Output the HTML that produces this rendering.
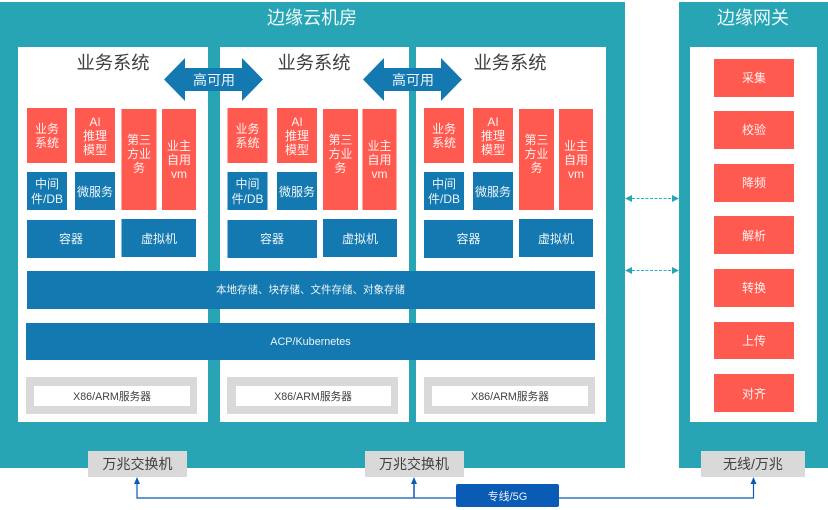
<!DOCTYPE html>
<html lang="zh">
<head>
<meta charset="utf-8">
<title>边缘云机房</title>
<style>
html,body{margin:0;padding:0;background:#fff}
svg{display:block}
text{font-family:"Liberation Sans","Noto Sans CJK SC",sans-serif;text-anchor:middle}
.w{fill:#fff;fill-opacity:.92;font-size:12px}
.d{fill:#404040}
.r{fill:#ff5a4f}
.b{fill:#1479b0}
.g{fill:#d9d9d9}
.t{fill:#28a5b5}
</style>
</head>
<body>
<svg width="828" height="510" viewBox="0 0 828 510" xmlns="http://www.w3.org/2000/svg">
<rect width="828" height="510" fill="#fff"/>
<rect class="t" x="0" y="2" width="625" height="466"/>
<rect class="t" x="679" y="2" width="149" height="466"/>
<text x="312" y="24" style="font-size:18px" fill="#eefafb">边缘云机房</text>
<text x="753" y="24" style="font-size:18px" fill="#eefafb">边缘网关</text>

<rect x="18" y="47" width="190" height="375" fill="#fff"/>
<rect x="220" y="47" width="189" height="375" fill="#fff"/>
<rect x="416" y="47" width="190" height="375" fill="#fff"/>
<rect x="690" y="47" width="127" height="375" fill="#fff"/>

<text class="d" x="113" y="69" style="font-size:18.300px">业务系统</text>
<text class="d" x="314" y="69" style="font-size:18.300px">业务系统</text>
<text class="d" x="510" y="69" style="font-size:18.300px">业务系统</text>

<!-- column 1 -->
<rect class="r" x="27" y="108" width="40" height="55"/>
<rect class="r" x="75" y="108" width="40" height="55"/>
<rect class="r" x="121.500" y="109" width="35" height="101"/>
<rect class="r" x="162" y="109" width="34" height="101"/>
<rect class="b" x="27" y="172" width="40" height="38"/>
<rect class="b" x="75" y="172" width="40" height="38"/>
<rect class="b" x="27" y="220" width="88" height="38"/>
<rect class="b" x="121.500" y="219" width="74.500" height="38"/>
<text class="w" x="47" y="133">业务</text><text class="w" x="47" y="147">系统</text>
<text class="w" x="95" y="126">AI</text><text class="w" x="95" y="140">推理</text><text class="w" x="95" y="154">模型</text>
<text class="w" x="139" y="144">第三</text><text class="w" x="139" y="158">方业</text><text class="w" x="139" y="172">务</text>
<text class="w" x="179" y="150">业主</text><text class="w" x="179" y="164">自用</text><text class="w" x="179" y="178">vm</text>
<text class="w" x="47" y="188">中间</text><text class="w" x="47" y="203">件/DB</text>
<text class="w" x="95" y="196">微服务</text>
<text class="w" x="71" y="243">容器</text>
<text class="w" x="159" y="243">虚拟机</text>

<!-- column 2 -->
<rect class="r" x="227.500" y="108" width="40" height="55"/>
<rect class="r" x="277" y="108" width="40" height="55"/>
<rect class="r" x="323" y="109" width="35" height="101"/>
<rect class="r" x="362.500" y="109" width="34" height="101"/>
<rect class="b" x="227.500" y="172" width="40" height="38"/>
<rect class="b" x="277" y="172" width="40" height="38"/>
<rect class="b" x="227.500" y="220" width="89.500" height="38"/>
<rect class="b" x="323" y="219" width="74" height="38"/>
<text class="w" x="247.500" y="133">业务</text><text class="w" x="247.500" y="147">系统</text>
<text class="w" x="297" y="126">AI</text><text class="w" x="297" y="140">推理</text><text class="w" x="297" y="154">模型</text>
<text class="w" x="340.500" y="144">第三</text><text class="w" x="340.500" y="158">方业</text><text class="w" x="340.500" y="172">务</text>
<text class="w" x="379.500" y="150">业主</text><text class="w" x="379.500" y="164">自用</text><text class="w" x="379.500" y="178">vm</text>
<text class="w" x="247.500" y="188">中间</text><text class="w" x="247.500" y="203">件/DB</text>
<text class="w" x="297" y="196">微服务</text>
<text class="w" x="272" y="243">容器</text>
<text class="w" x="360" y="243">虚拟机</text>

<!-- column 3 -->
<rect class="r" x="424" y="108" width="40" height="55"/>
<rect class="r" x="473" y="108" width="40" height="55"/>
<rect class="r" x="519" y="109" width="35" height="101"/>
<rect class="r" x="559" y="109" width="34" height="101"/>
<rect class="b" x="424" y="172" width="40" height="38"/>
<rect class="b" x="473" y="172" width="40" height="38"/>
<rect class="b" x="424" y="220" width="89" height="38"/>
<rect class="b" x="519" y="219" width="74" height="38"/>
<text class="w" x="444" y="133">业务</text><text class="w" x="444" y="147">系统</text>
<text class="w" x="493" y="126">AI</text><text class="w" x="493" y="140">推理</text><text class="w" x="493" y="154">模型</text>
<text class="w" x="536.500" y="144">第三</text><text class="w" x="536.500" y="158">方业</text><text class="w" x="536.500" y="172">务</text>
<text class="w" x="576" y="150">业主</text><text class="w" x="576" y="164">自用</text><text class="w" x="576" y="178">vm</text>
<text class="w" x="444" y="188">中间</text><text class="w" x="444" y="203">件/DB</text>
<text class="w" x="493" y="196">微服务</text>
<text class="w" x="468.500" y="243">容器</text>
<text class="w" x="556" y="243">虚拟机</text>

<!-- high-availability arrows -->
<polygon class="b" points="164,79.500 185,58 185,68 242,68 242,58 263,79.500 242,101 242,91 185,91 185,101"/>
<polygon class="b" points="363,79.500 384,58 384,68 441,68 441,58 462,79.500 441,101 441,91 384,91 384,101"/>
<text class="w" x="214" y="85" style="font-size:14px">高可用</text>
<text class="w" x="413" y="85" style="font-size:14px">高可用</text>

<!-- shared layers -->
<rect class="b" x="27" y="271" width="568" height="38"/>
<rect class="b" x="26" y="323" width="569" height="37"/>
<text class="w" x="310.500" y="293" style="font-size:10.500px">本地存储、块存储、文件存储、对象存储</text>
<text class="w" x="310.500" y="345" style="font-size:10.800px">ACP/Kubernetes</text>

<!-- servers -->
<rect class="g" x="26" y="377" width="171" height="37"/>
<rect x="34" y="386" width="156" height="20" fill="#fff"/>
<rect class="g" x="227" y="377" width="171" height="37"/>
<rect x="236" y="386" width="155" height="20" fill="#fff"/>
<rect class="g" x="424" y="377" width="171" height="37"/>
<rect x="432" y="386" width="156" height="20" fill="#fff"/>
<text class="d" x="112" y="400" style="font-size:10.700px">X86/ARM服务器</text>
<text class="d" x="313" y="400" style="font-size:10.700px">X86/ARM服务器</text>
<text class="d" x="510" y="400" style="font-size:10.700px">X86/ARM服务器</text>

<!-- gateway items -->
<rect class="r" x="714" y="59" width="80" height="38"/>
<rect class="r" x="714" y="111" width="80" height="38"/>
<rect class="r" x="714" y="164" width="80" height="38"/>
<rect class="r" x="714" y="216" width="80" height="38"/>
<rect class="r" x="714" y="269" width="80" height="38"/>
<rect class="r" x="714" y="322" width="80" height="37"/>
<rect class="r" x="714" y="374" width="80" height="38"/>
<text class="w" x="754" y="82">采集</text>
<text class="w" x="754" y="134">校验</text>
<text class="w" x="754" y="187">降频</text>
<text class="w" x="754" y="240">解析</text>
<text class="w" x="754" y="292">转换</text>
<text class="w" x="754" y="345">上传</text>
<text class="w" x="754" y="398">对齐</text>

<!-- dashed links -->
<line x1="632" y1="198.500" x2="672" y2="198.500" stroke="#1fb3c8" stroke-width="1" stroke-dasharray="3 1.500"/>
<polygon class="t" points="625,198.500 632,195 632,202"/>
<polygon class="t" points="679,198.500 672,195 672,202"/>
<line x1="632" y1="270.500" x2="672" y2="270.500" stroke="#1fb3c8" stroke-width="1" stroke-dasharray="3 1.500"/>
<polygon class="t" points="625,270.500 632,267 632,274"/>
<polygon class="t" points="679,270.500 672,267 672,274"/>

<!-- switches -->
<rect class="g" x="88" y="451" width="99" height="26"/>
<rect class="g" x="365" y="451" width="99" height="26"/>
<rect class="g" x="701" y="451" width="104" height="26"/>
<text class="d" x="137.500" y="469" style="font-size:14px">万兆交换机</text>
<text class="d" x="414" y="469" style="font-size:14px">万兆交换机</text>
<text class="d" x="753" y="469" style="font-size:14px">无线/万兆</text>

<!-- bottom connectors -->
<path d="M137 484 V498 H753.500 V484" fill="none" stroke="#0a5bb5" stroke-width="1.200"/>
<line x1="414" y1="484" x2="414" y2="498" stroke="#0a5bb5" stroke-width="1.500"/>
<polygon fill="#0a5bb5" points="137,477 134,484 140,484"/>
<polygon fill="#0a5bb5" points="414,477 411,484 417,484"/>
<polygon fill="#0a5bb5" points="753.500,477 750.500,484 756.500,484"/>
<rect x="456" y="484" width="103" height="23" rx="2" fill="#0a5bb5"/>
<text class="w" x="507.500" y="500" style="font-size:11px">专线/5G</text>
</svg>
</body>
</html>
